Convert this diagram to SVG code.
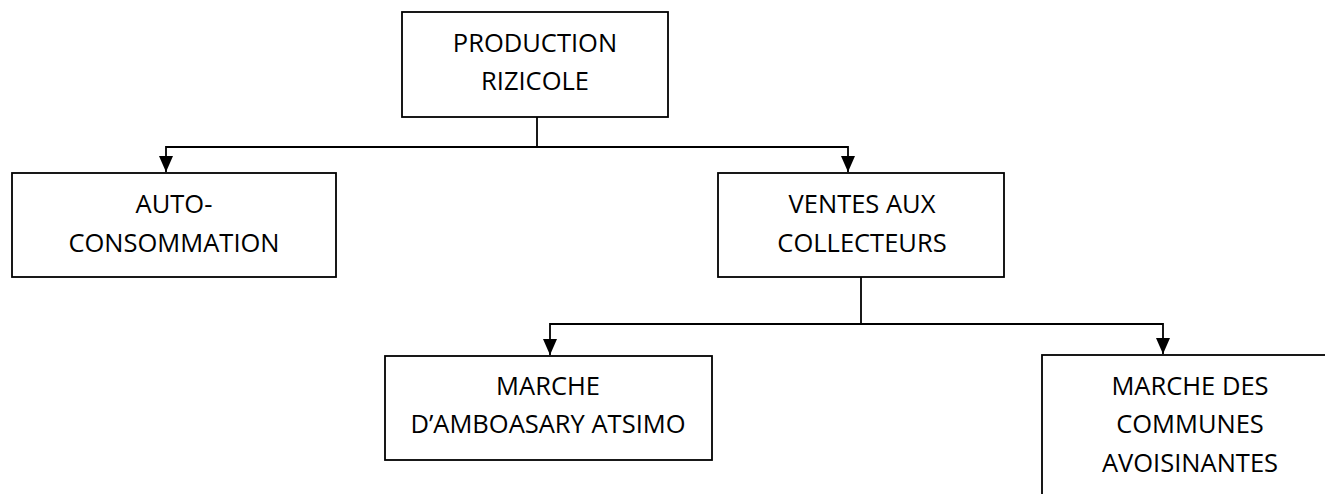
<svg xmlns="http://www.w3.org/2000/svg" width="1325" height="494" viewBox="0 0 1325 494">
<style>
.box{fill:#fff;stroke:#000;stroke-width:1.8}
.t{font-family:"Open Sans","Liberation Sans",sans-serif;font-size:25.5px;fill:#000;text-anchor:middle}
.c{fill:none;stroke:#000;stroke-width:1.8}
</style>
<defs>
<marker id="ah" markerWidth="16" markerHeight="14" viewBox="0 0 16 14" refX="16" refY="7" orient="auto" markerUnits="userSpaceOnUse">
<path d="M0,0 L16,7 L0,14 Z" fill="#000"/>
</marker>
</defs>
<rect width="1325" height="494" fill="#fff"/>
<g id="connectors">
<path class="c" d="M537,117 V147"/>
<path class="c" d="M537,147 H166 V172" marker-end="url(#ah)"/>
<path class="c" d="M537,147 H848 V172" marker-end="url(#ah)"/>
<path class="c" d="M861,277 V324"/>
<path class="c" d="M861,324 H550 V355" marker-end="url(#ah)"/>
<path class="c" d="M861,324 H1163 V354" marker-end="url(#ah)"/>
</g>
<g id="production">
<rect class="box" x="402" y="12" width="266" height="105"/>
<text class="t" x="535" y="52">PRODUCTION</text>
<text class="t" x="535" y="90">RIZICOLE</text>
</g>
<g id="auto">
<rect class="box" x="12" y="173" width="324" height="104"/>
<text class="t" x="174" y="213">AUTO-</text>
<text class="t" x="174" y="252">CONSOMMATION</text>
</g>
<g id="ventes">
<rect class="box" x="718" y="173" width="286" height="104"/>
<text class="t" x="862" y="213">VENTES AUX</text>
<text class="t" x="862" y="252">COLLECTEURS</text>
</g>
<g id="amboasary">
<rect class="box" x="385" y="356" width="327" height="104"/>
<text class="t" x="548" y="395">MARCHE</text>
<text class="t" x="548" y="433">D’AMBOASARY ATSIMO</text>
</g>
<g id="communes">
<rect class="box" x="1042" y="355" width="300" height="160"/>
<text class="t" x="1190" y="395">MARCHE DES</text>
<text class="t" x="1190" y="433">COMMUNES</text>
<text class="t" x="1190" y="472">AVOISINANTES</text>
</g>
</svg>
